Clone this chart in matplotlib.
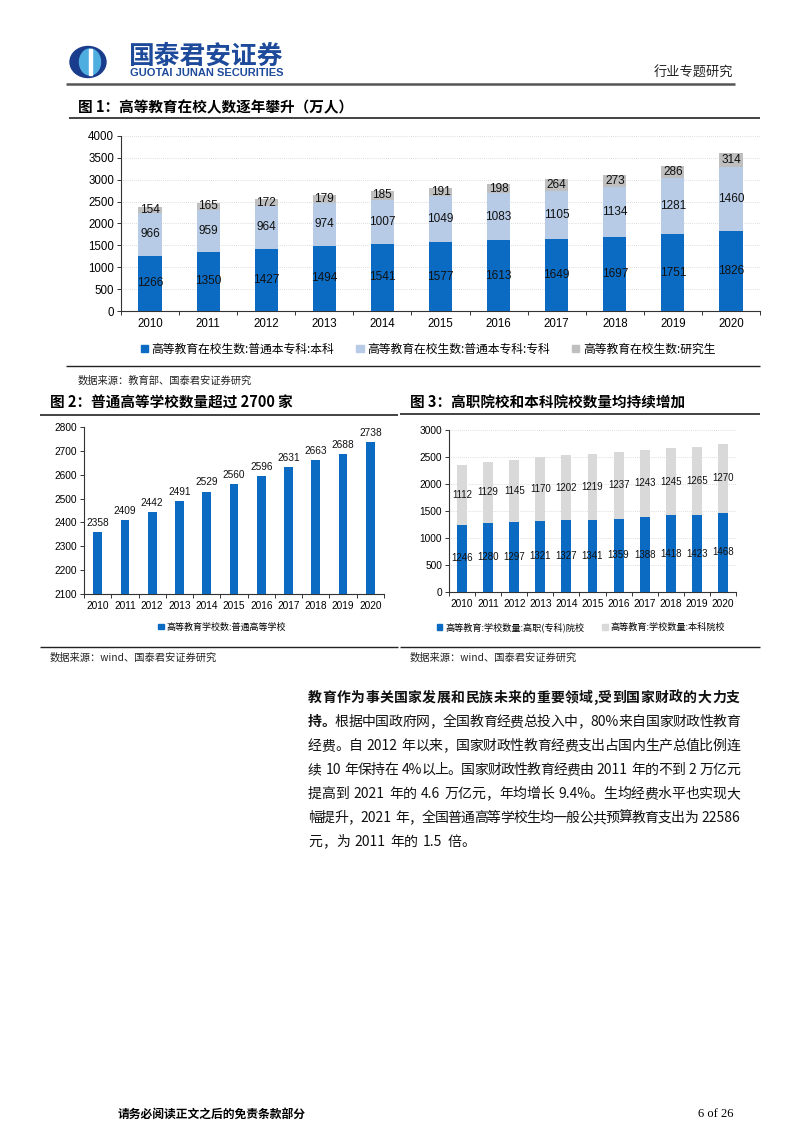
import re

import matplotlib
matplotlib.use("Agg")
import matplotlib.pyplot as plt
import numpy as np
from matplotlib.patches import Ellipse, Rectangle, Patch

W, H = 802, 1133

years = [str(y) for y in range(2010, 2021)]
undergrad = [1266, 1350, 1427, 1494, 1541, 1577, 1613, 1649, 1697, 1751, 1826]
junior = [966, 959, 964, 974, 1007, 1049, 1083, 1105, 1134, 1281, 1460]
postgrad = [154, 165, 172, 179, 185, 191, 198, 264, 273, 286, 314]
schools = [2358, 2409, 2442, 2491, 2529, 2560, 2596, 2631, 2663, 2688, 2738]
vocational = [1246, 1280, 1297, 1321, 1327, 1341, 1359, 1388, 1418, 1423, 1468]
bachelor = [1112, 1129, 1145, 1170, 1202, 1219, 1237, 1243, 1245, 1265, 1270]

legend1 = ["高等教育在校生数:普通本专科:本科", "高等教育在校生数:普通本专科:专科",
           "高等教育在校生数:研究生"]
legend2 = ["高等教育学校数:普通高等学校"]
legend3 = ["高等教育:学校数量:高职(专科)院校", "高等教育:学校数量:本科院校"]

# (bold part, normal part) per line
para = [
    ("教育作为事关国家发展和民族未来的重要领域,受到国家财政的大力支", ""),
    ("持。", "根据中国政府网，全国教育经费总投入中，80%来自国家财政性教育"),
    ("", "经费。自 2012 年以来，国家财政性教育经费支出占国内生产总值比例连"),
    ("", "续 10 年保持在 4%以上。国家财政性教育经费由 2011 年的不到 2 万亿元"),
    ("", "提高到 2021 年的 4.6 万亿元，年均增长 9.4%。生均经费水平也实现大"),
    ("", "幅提升，2021 年，全国普通高等学校生均一般公共预算教育支出为 22586"),
    ("", "元，为 2011 年的 1.5 倍。"),
]

BLUE = "#0B6BC3"
LBLUE = "#B7CBE6"
GRAY = "#BFBFBF"
LGRAY = "#D9D9D9"
NAVY = "#1D4A9A"

CJK = ["Noto Sans CJK SC", "DejaVu Sans"]
plt.rcParams["font.family"] = ["Liberation Sans", "Noto Sans CJK SC"]

fig = plt.figure(figsize=(W / 100, H / 100), dpi=100)
renderer = fig.canvas.get_renderer()

bg = fig.add_axes([0, 0, 1, 1])
bg.set_xlim(0, W)
bg.set_ylim(H, 0)
bg.axis("off")


def px_ax(x0, y0, x1, y1):
    return fig.add_axes([x0 / W, 1 - y1 / H, (x1 - x0) / W, (y1 - y0) / H])


def hline(y, x0, x1, lw=1.0, color="#222222"):
    bg.plot([x0, x1], [y, y], color=color, lw=lw, solid_capstyle="butt")


def style_axis(ax, n, size):
    for s in ["top", "right"]:
        ax.spines[s].set_visible(False)
    for s in ["left", "bottom"]:
        ax.spines[s].set_color("#333333")
        ax.spines[s].set_linewidth(0.8)
    ax.set_xlim(-0.5, n - 0.5)
    ax.set_xticks(range(n))
    ax.set_xticklabels(years)
    ax.set_xticks(np.arange(-0.5, n), minor=True)
    ax.tick_params(axis="x", which="major", length=0, pad=5, labelsize=size)
    ax.tick_params(axis="x", which="minor", length=3, width=0.7, color="#333333")
    ax.tick_params(axis="y", length=3, width=0.7, pad=2, labelsize=size, color="#333333")


def justify(x0, x1, y, parts, size, last=False):
    # split into single CJK chars / ascii runs, then spread them over x0..x1
    items = []
    for text, weight in parts:
        for tok in re.findall(r"[0-9A-Za-z.%]+|.", text):
            t = bg.text(0, y, tok, fontsize=size, fontweight=weight, family=CJK,
                        va="center", color="#111111")
            w = t.get_window_extent(renderer).width
            if tok == " ":
                w = size * 100 / 72 * 0.35
            items.append((t, w))
    total = sum(w for _, w in items)
    gap = 0 if last else (x1 - x0 - total) / (len(items) - 1)
    x = x0
    for t, w in items:
        t.set_x(x)
        x += w + gap


# ---- header ----
bg.add_patch(Ellipse((88, 62), 36, 31, color="#1A3C8C"))
bg.add_patch(Ellipse((90, 62), 21, 26, color="#4FAEE0"))
bg.add_patch(Rectangle((88.5, 49), 3, 26, color="white"))
bg.text(128, 56, "国泰君安证券", fontsize=18.5, fontweight="bold", color=NAVY,
        family=CJK, va="center")
bg.text(130, 73.5, "GUOTAI JUNAN SECURITIES", fontsize=8, fontweight="bold",
        color=NAVY, va="center")
bg.text(733, 73, "行业专题研究", fontsize=9.5, family=CJK, ha="right", va="center",
        color="#222222")
hline(84, 66, 735, lw=1.8, color="#555555")

# ---- figure 1 ----
bg.text(78, 107, "图 1：高等教育在校人数逐年攀升（万人）", fontsize=10.5,
        fontweight="bold", family=CJK, va="center")
hline(118, 69, 760, lw=1.2)

ax1 = px_ax(121, 136, 760, 311)
x = np.arange(len(years))
b1 = ax1.bar(x, undergrad, 0.4, color=BLUE, zorder=3)
b2 = ax1.bar(x, junior, 0.4, bottom=undergrad, color=LBLUE, zorder=3)
b3 = ax1.bar(x, postgrad, 0.4, bottom=np.add(undergrad, junior), color=GRAY, zorder=3)
for b in (b1, b2, b3):
    ax1.bar_label(b, label_type="center", fontsize=8.5, color="#111111")
ax1.set_ylim(0, 4000)
ax1.set_yticks(range(0, 4001, 500))
ax1.yaxis.grid(True, color="#D0D0D0", lw=0.6, ls=(0, (1, 1.5)), zorder=0)
style_axis(ax1, len(years), 8.3)
fig.legend([Patch(color=c) for c in (BLUE, LBLUE, GRAY)], legend1, ncol=3,
           loc="center", bbox_to_anchor=(428 / W, 1 - 349 / H), frameon=False,
           prop={"family": CJK, "size": 8.5}, handlelength=0.6, handleheight=0.6,
           handletextpad=0.3, columnspacing=1.9)
hline(366, 66, 760, lw=1.0)
bg.text(78, 381, "数据来源：教育部、国泰君安证券研究", fontsize=7.4, family=CJK,
        va="center", color="#222222")

# ---- figure 2 ----
bg.text(50, 403, "图 2：普通高等学校数量超过 2700 家", fontsize=10.5,
        fontweight="bold", family=CJK, va="center")
hline(415, 40, 398, lw=1.2)
ax2 = px_ax(84, 427, 384, 594)
c2 = ax2.bar(x, schools, 0.32, color=BLUE, zorder=3)
ax2.bar_label(c2, padding=3, fontsize=7.3, color="#111111")
ax2.set_ylim(2100, 2800)
ax2.set_yticks(range(2100, 2801, 100))
style_axis(ax2, len(years), 7.3)
fig.legend([Patch(color=BLUE)], legend2, loc="center",
           bbox_to_anchor=(222 / W, 1 - 627 / H), frameon=False,
           prop={"family": CJK, "size": 6.5}, handlelength=0.6, handleheight=0.6,
           handletextpad=0.3)
hline(647, 40, 398, lw=1.0)
bg.text(50, 658, "数据来源：wind、国泰君安证券研究", fontsize=7.4, family=CJK,
        va="center", color="#222222")

# ---- figure 3 ----
bg.text(410, 403, "图 3：高职院校和本科院校数量均持续增加", fontsize=10.5,
        fontweight="bold", family=CJK, va="center")
hline(414, 400, 760, lw=1.2)
ax3 = px_ax(449, 430, 736, 592)
c3a = ax3.bar(x, vocational, 0.38, color=BLUE, zorder=3)
c3b = ax3.bar(x, bachelor, 0.38, bottom=vocational, color=LGRAY, zorder=3)
for b in (c3a, c3b):
    ax3.bar_label(b, label_type="center", fontsize=7, color="#111111")
ax3.set_ylim(0, 3000)
ax3.set_yticks(range(0, 3001, 500))
ax3.yaxis.grid(True, color="#D0D0D0", lw=0.6, ls=(0, (1, 1.5)), zorder=0)
style_axis(ax3, len(years), 7.3)
fig.legend([Patch(color=BLUE), Patch(color=LGRAY)], legend3, ncol=2, loc="center",
           bbox_to_anchor=(581 / W, 1 - 627 / H), frameon=False,
           prop={"family": CJK, "size": 6.6}, handlelength=0.6, handleheight=0.6,
           handletextpad=0.3, columnspacing=2.0)
hline(647, 400, 760, lw=1.0)
bg.text(410, 658, "数据来源：wind、国泰君安证券研究", fontsize=7.4, family=CJK,
        va="center", color="#222222")

# ---- paragraph ----
for i, (bold, normal) in enumerate(para):
    justify(308, 740, 698 + 24 * i, [(bold, "bold"), (normal, "normal")], 10,
            last=(i == len(para) - 1))

# ---- footer ----
bg.text(118, 1114, "请务必阅读正文之后的免责条款部分", fontsize=8.5, fontweight="bold",
        family=CJK, va="center")
bg.text(733, 1114, "6 of 26", fontsize=9, family="Liberation Serif", ha="right",
        va="center")

fig.savefig("out.png", dpi=100)
